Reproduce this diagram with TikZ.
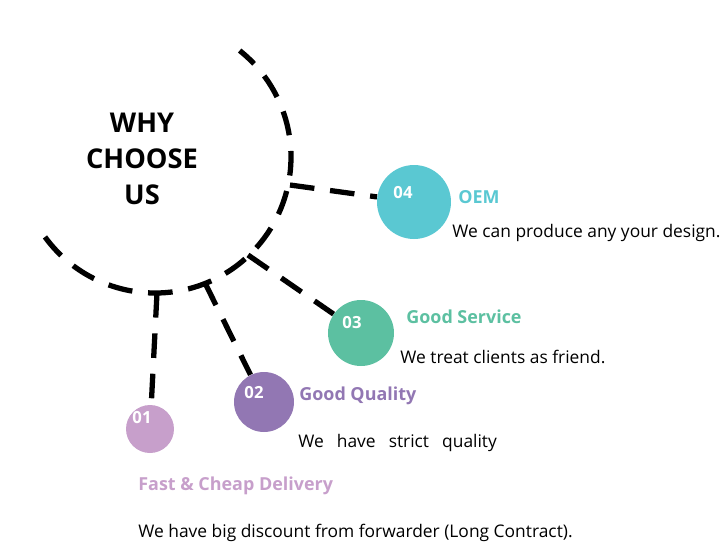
\documentclass[tikz,border=0pt]{standalone}
\usepackage{fontspec}
\setmainfont{Open Sans}
\usetikzlibrary{positioning}
\definecolor{oemcol}{HTML}{5AC8D2}
\definecolor{servcol}{HTML}{5CC0A1}
\definecolor{qualcol}{HTML}{9277B3}
\definecolor{delcol}{HTML}{C79FCB}
\tikzstyle{dashline} = [line width=3pt, dash pattern=on 14pt off 9pt, black]
\tikzstyle{bubble} = [circle, inner sep=0pt]
\tikzstyle{num} = [anchor=base, inner sep=0pt, text=white, font=\bfseries\fontsize{9.5}{11}\selectfont]
\tikzstyle{headline} = [anchor=base west, inner sep=0pt, font=\bfseries\fontsize{10.2}{12}\selectfont]
\tikzstyle{info} = [anchor=base west, inner sep=0pt, font=\fontsize{9.9}{12}\selectfont]
\tikzstyle{title} = [align=center, font=\bfseries\fontsize{15.5}{20.4}\selectfont]
\begin{document}
\begin{tikzpicture}[x=0.02cm, y=-0.02cm]
\useasboundingbox (0,0) rectangle (728,549);

\node (why) [title] at (142,159) {WHY\\CHOOSE\\US};

% the big arc
\coordinate (hub) at (155,157);
\draw [dashline] (hub) ++(144:136) arc [start angle=144, end angle=-51.5, radius=136];
\coordinate (j4) at (290,185);
\coordinate (j3) at (248,255);
\coordinate (j2) at (205,283);
\coordinate (j1) at (157,293);

\node (c4) [bubble, fill=oemcol, minimum size=1.48cm] at (414,202) {};
\node (c3) [bubble, fill=servcol, minimum size=1.32cm] at (361,333) {};
\node (c2) [bubble, fill=qualcol, minimum size=1.2cm] at (264,402) {};
\node (c1) [bubble, fill=delcol, minimum size=0.96cm] at (150,429) {};

\node (n4) [num] at (403,198) {04};
\node (n3) [num] at (352,328) {03};
\node (n2) [num] at (254,398) {02};
\node (n1) [num] at (142,423) {01};

\draw [dashline] (j4) -- (c4);
\draw [dashline] (j3) -- (c3);
\draw [dashline] (j2) -- (c2);
\draw [dashline] (j1) -- (c1);

\node (h4) [headline, text=oemcol] at (458,203) {OEM};
\node (t4) [info] at (452,237) {We can produce any your design.};
\node (h3) [headline, text=servcol] at (406,323) {Good Service};
\node (t3) [info] at (400,363) {We treat clients as friend.};
\node (h2) [headline, text=qualcol] at (299,400) {Good Quality};
\node (t2) [info] at (298,447) {We\hspace{0.75em}have\hspace{0.75em}strict\hspace{0.75em}quality};
\node (h1) [headline, text=delcol] at (138,490) {Fast \& Cheap Delivery};
\node (t1) [info] at (138,537) {We have big discount from forwarder (Long Contract).};

\end{tikzpicture}
\end{document}
